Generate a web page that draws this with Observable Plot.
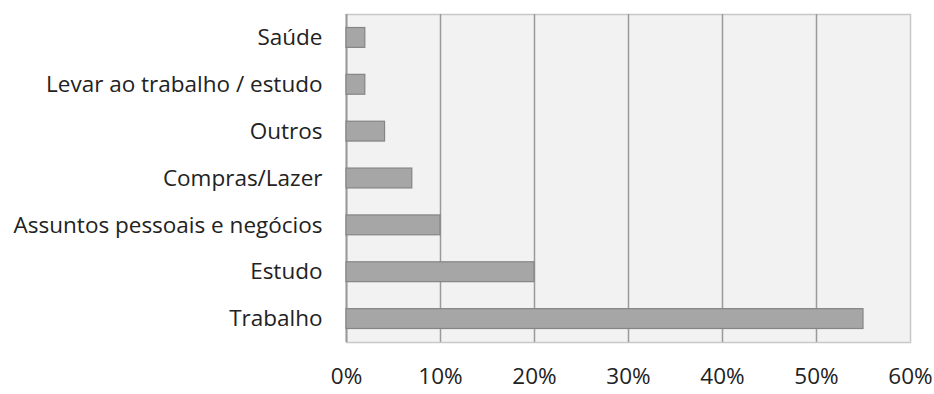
<!DOCTYPE html>
<html>
<head>
<meta charset="utf-8">
<script src="https://cdn.jsdelivr.net/npm/d3@7"></script>
<script src="https://cdn.jsdelivr.net/npm/@observablehq/plot@0.6"></script>
<style>
body { margin: 0; background: #fff; }
#chart svg { display: block; }
</style>
</head>
<body>
<div id="chart"></div>
<script>
const categories = ["Saúde", "Levar ao trabalho / estudo", "Outros", "Compras/Lazer", "Assuntos pessoais e negócios", "Estudo", "Trabalho"];
const values = [0.02, 0.02, 0.041, 0.07, 0.10, 0.20, 0.55];
const xTicks = [0, 0.1, 0.2, 0.3, 0.4, 0.5, 0.6];

const data = categories.map((c, i) => ({category: c, value: values[i]}));

const chart = Plot.plot({
  width: 934,
  height: 394,
  marginLeft: 346,
  marginRight: 24,
  marginTop: 14,
  marginBottom: 52,
  style: {fontFamily: "'Open Sans', sans-serif", color: "#222", background: "#fff"},
  x: {domain: [0, 0.6], label: null},
  y: {domain: categories, padding: 0, round: false, label: null},
  marks: [
    Plot.frame({fill: "#f2f2f2", stroke: "#c8c8c8", strokeWidth: 1.5}),
    Plot.ruleX(xTicks.slice(1, -1), {stroke: "#9a9a9a", strokeWidth: 1.5}),
    Plot.ruleX([0], {stroke: "#9a9a9a", strokeWidth: 2}),
    Plot.barX(data, {x: "value", y: "category", insetTop: 13.5, insetBottom: 13.5, fill: "#a6a6a6", stroke: "#858585", strokeWidth: 1.2}),
    Plot.axisX({ticks: xTicks, tickFormat: d => Math.round(d * 100) + "%", tickSize: 0, tickPadding: 26, fontSize: 22.5, label: null, fill: "#222"}),
    Plot.axisY({tickSize: 0, tickPadding: 24, fontSize: 22.5, label: null, fill: "#222"})
  ]
});
document.getElementById("chart").appendChild(chart);
</script>
</body>
</html>
